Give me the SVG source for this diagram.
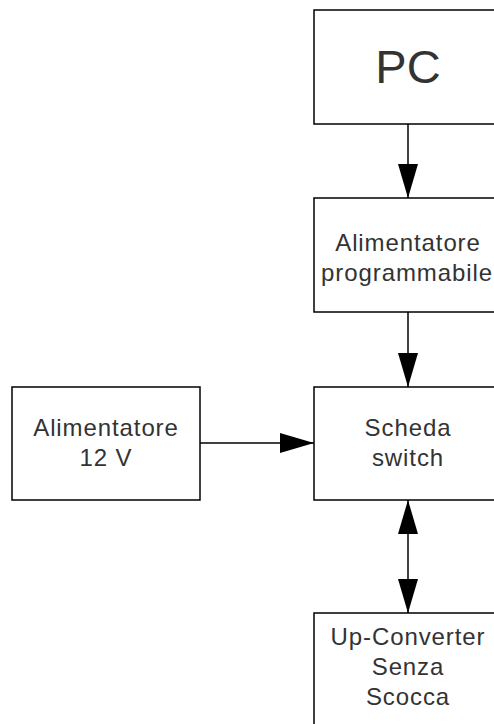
<svg xmlns="http://www.w3.org/2000/svg" width="494" height="724" viewBox="0 0 494 724">
  <style>
    .box { fill: #ffffff; stroke: #000000; stroke-width: 1.5; }
    .lbl { font-family: "Liberation Sans", Arial, sans-serif; font-size: 24px; letter-spacing: 0.9px; fill: #333333; text-anchor: middle; }
    .big { font-family: "Liberation Sans", Arial, sans-serif; font-size: 47px; fill: #333333; text-anchor: middle; }
    .conn { stroke: #000000; stroke-width: 1.5; fill: none; }
  </style>
  <defs>
    <marker id="arr" markerUnits="userSpaceOnUse" markerWidth="36" markerHeight="22" viewBox="0 0 36 22" refX="35" refY="11" orient="auto-start-reverse">
      <path d="M1,1 L35,11 L1,21 Z" fill="#000000"/>
    </marker>
  </defs>
  <rect width="494" height="724" fill="#ffffff"/>

  <g id="connectors">
    <line class="conn" x1="408" y1="124" x2="408" y2="198" marker-end="url(#arr)"/>
    <line class="conn" x1="408" y1="312" x2="408" y2="387" marker-end="url(#arr)"/>
    <line class="conn" x1="200" y1="443" x2="314" y2="443" marker-end="url(#arr)"/>
    <line class="conn" x1="408" y1="500" x2="408" y2="613" marker-start="url(#arr)" marker-end="url(#arr)"/>
  </g>

  <g id="pc">
    <rect class="box" x="314" y="10" width="188" height="114"/>
    <text class="big" x="408" y="83">PC</text>
  </g>

  <g id="alimentatore-programmabile">
    <rect class="box" x="314" y="198" width="188" height="114"/>
    <text class="lbl" x="408" y="251">Alimentatore</text>
    <text class="lbl" x="407" y="281">programmabile</text>
  </g>

  <g id="alimentatore-12v">
    <rect class="box" x="12" y="387" width="188" height="113"/>
    <text class="lbl" x="106" y="436">Alimentatore</text>
    <text class="lbl" x="106" y="466">12 V</text>
  </g>

  <g id="scheda-switch">
    <rect class="box" x="314" y="387" width="188" height="113"/>
    <text class="lbl" x="408" y="436">Scheda</text>
    <text class="lbl" x="408" y="466">switch</text>
  </g>

  <g id="up-converter">
    <rect class="box" x="314" y="613" width="188" height="114"/>
    <text class="lbl" x="408" y="645">Up-Converter</text>
    <text class="lbl" x="408" y="675">Senza</text>
    <text class="lbl" x="408" y="705">Scocca</text>
  </g>
</svg>
